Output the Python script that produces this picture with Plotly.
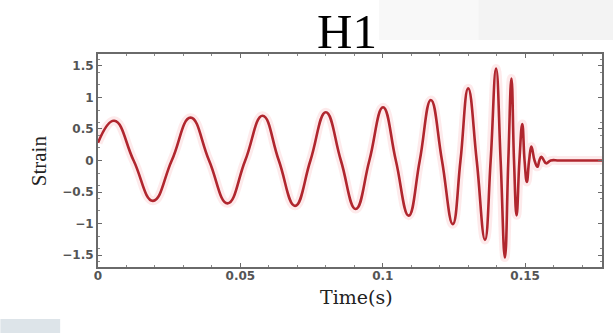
import plotly.graph_objects as go

# H1 strain waveform: extrema and zero crossings of the chirp, then the ringdown
time_s = [0.0, 0.0057, 0.0125, 0.0193, 0.0259, 0.0325, 0.0390, 0.0455, 0.0517,
          0.0578, 0.0635, 0.0692, 0.0746, 0.0800, 0.0853, 0.0905, 0.0953,
          0.1001, 0.1046, 0.1091, 0.1130, 0.1169, 0.1208, 0.1246, 0.1273,
          0.1300, 0.1330, 0.1359, 0.1379, 0.1398, 0.1414, 0.1429, 0.1441,
          0.1452, 0.1461, 0.1470, 0.1480, 0.1490, 0.1498, 0.1506, 0.1514,
          0.1522, 0.1533, 0.1543, 0.1550, 0.1557, 0.1566, 0.1574, 0.1590,
          0.1620, 0.1700, 0.1770]
strain = [0.28, 0.63, 0.0, -0.64, 0.0, 0.68, 0.0, -0.68, 0.0,
          0.71, 0.0, -0.72, 0.0, 0.765, 0.0, -0.77, 0.0,
          0.845, 0.0, -0.875, 0.0, 0.96, 0.0, -1.01, 0.0,
          1.145, 0.0, -1.26, 0.0, 1.46, 0.0, -1.54, 0.0,
          1.30, 0.0, -0.87, 0.0, 0.58, 0.0, -0.34, 0.0,
          0.22, 0.0, -0.10, 0.0, 0.06, 0.0, -0.045, 0.0,
          0.0, 0.0, 0.0]

x_ticks = [0, 0.05, 0.1, 0.15]
y_ticks = [-1.5, -1, -0.5, 0, 0.5, 1, 1.5]

W, H = 615, 333
L, R, T, B = 98, 11, 54, 66
PW, PH = W - L - R, H - T - B


def px_x(px):
    return (px - L) / PW


def px_y(py):
    return (H - B - py) / PH


fig = go.Figure()

# soft red halo under the trace
fig.add_trace(go.Scatter(
    x=time_s, y=strain, mode="lines",
    line=dict(color="rgba(240,90,100,0.13)", width=9, shape="spline", smoothing=1.3),
    hoverinfo="skip", showlegend=False))
fig.add_trace(go.Scatter(
    x=time_s, y=strain, mode="lines",
    line=dict(color="#b0262e", width=2.6, shape="spline", smoothing=1.3),
    showlegend=False))

axis_common = dict(
    showgrid=False, zeroline=False,
    showline=True, linecolor="#6a6a6a", linewidth=2, mirror="ticks",
    ticks="inside", ticklen=4, tickcolor="#6a6a6a", tickwidth=1,
    tickfont=dict(family="DejaVu Sans", size=12, color="#555555", weight="bold"),
    minor=dict(ticks="inside", ticklen=2, tickcolor="#888888", nticks=5),
)

fig.update_xaxes(range=[0, 0.177], tickvals=x_ticks,
                 ticktext=[str(v) for v in x_ticks], ticklabelstandoff=-3,
                 **axis_common)
fig.update_yaxes(range=[-1.69, 1.69], tickvals=y_ticks,
                 ticktext=[("\u2212" if v < 0 else "") + f"{abs(v):g}" for v in y_ticks],
                 **axis_common)

shapes = [
    # pale grey slide background at the top right
    dict(type="rect", xref="paper", yref="paper", layer="below",
         x0=px_x(380), x1=px_x(615), y0=px_y(40), y1=px_y(0),
         fillcolor="#f8f8f8", line=dict(width=0)),
    dict(type="rect", xref="paper", yref="paper", layer="below",
         x0=px_x(480), x1=px_x(615), y0=px_y(40), y1=px_y(0),
         fillcolor="#f3f3f3", line=dict(width=0)),
    # small footer emblem at the bottom left
    dict(type="rect", xref="paper", yref="paper", layer="below",
         x0=px_x(0), x1=px_x(60), y0=px_y(333), y1=px_y(319),
         fillcolor="#dde4e9", line=dict(width=0)),
]

annotations = [
    dict(text="H1", xref="paper", yref="paper", x=px_x(348), y=px_y(31),
         xanchor="center", yanchor="middle", showarrow=False,
         font=dict(family="Liberation Serif", size=49, color="#000000")),
    dict(text="Time(s)", xref="paper", yref="paper", x=px_x(358), y=px_y(297),
         xanchor="center", yanchor="middle", showarrow=False,
         font=dict(family="DejaVu Serif", size=19, color="#222222")),
    dict(text="Strain", xref="paper", yref="paper", x=px_x(39), y=px_y(161),
         xanchor="center", yanchor="middle", showarrow=False, textangle=-90,
         font=dict(family="Liberation Serif", size=21, color="#222222")),
]

fig.update_layout(
    width=W, height=H,
    margin=dict(l=L, r=R, t=T, b=B),
    paper_bgcolor="#ffffff", plot_bgcolor="#ffffff",
    shapes=shapes, annotations=annotations,
    showlegend=False,
)

fig.write_html("out.html")
